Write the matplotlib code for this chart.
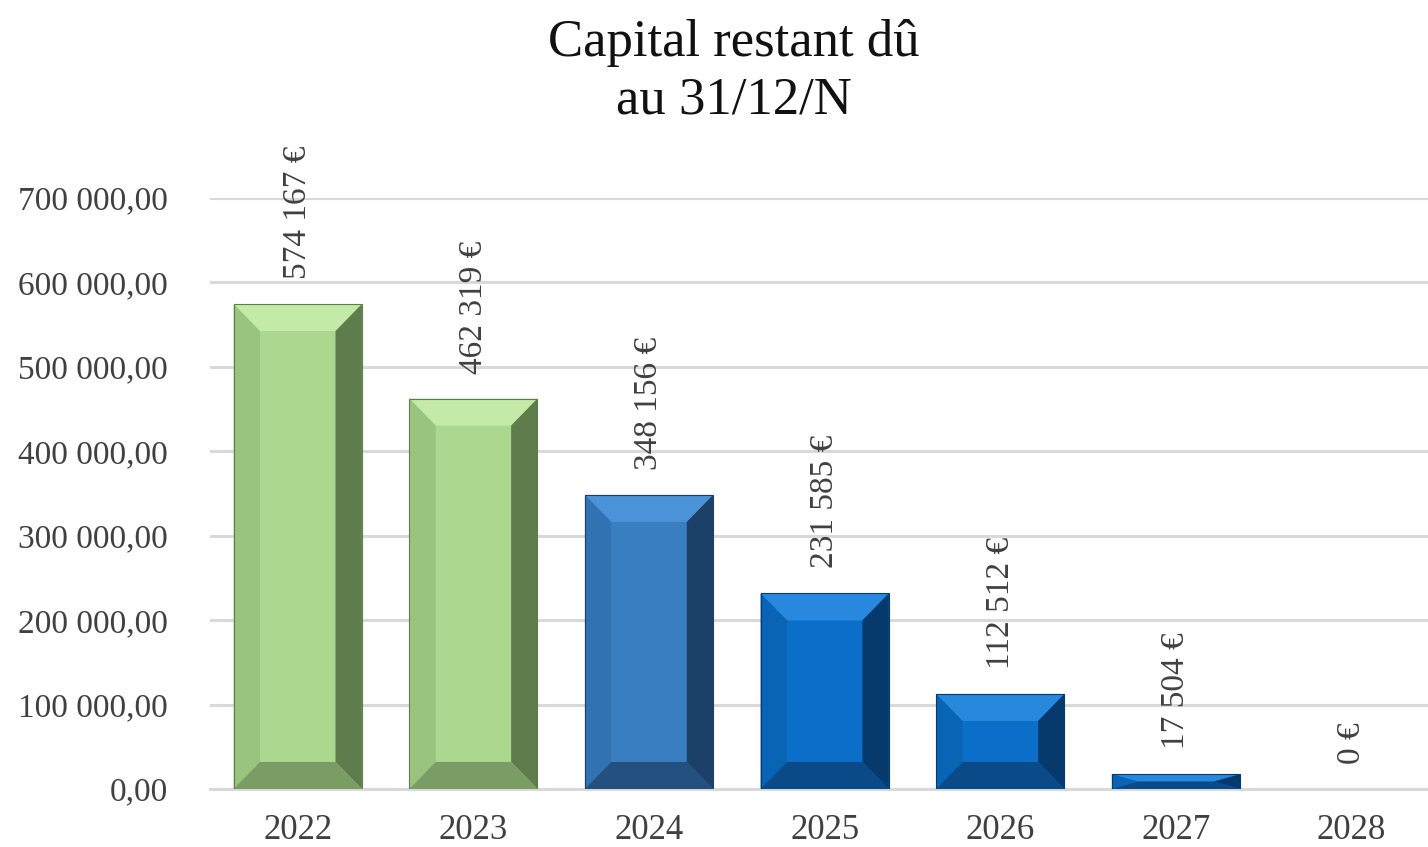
import matplotlib
matplotlib.use("Agg")
import matplotlib.pyplot as plt
from matplotlib.patches import Polygon
from matplotlib.ticker import FuncFormatter

years = ["2022", "2023", "2024", "2025", "2026", "2027", "2028"]
capital = [574167, 462319, 348156, 231585, 112512, 17504, 0]
labels = ["574 167 €", "462 319 €", "348 156 €", "231 585 €", "112 512 €", "17 504 €", "0 €"]

# face, top, left, right, bottom
green = ["#abd78f", "#c4eaa8", "#98c47e", "#5f7d4c", "#7a9d65"]
blue_a = ["#3a7ec2", "#4b93d8", "#3172b2", "#1c4068", "#24507f"]
blue_b = ["#0b6fca", "#2888de", "#0a64b6", "#063a6c", "#0a4a88"]
palette = [green, green, blue_a, blue_b, blue_b, blue_b, blue_b]

plt.rcParams["font.family"] = ["Liberation Serif", "DejaVu Serif"]
text_col = "#404040"

fig = plt.figure(figsize=(14.28, 8.47), dpi=100)
ax = fig.add_axes([0.147, 0.0685, 0.861, 0.698])

xs = list(range(len(years)))
width = 0.73
hw = width / 2
bev_x = 0.15
bev_y = 32000

ax.bar(xs, capital, width=width, color=[p[0] for p in palette], zorder=3)

# bevel faces on each bar
for x, h, cols in zip(xs, capital, palette):
    if h <= 0:
        continue
    dy = min(bev_y, h / 2)
    dx = min(bev_x, hw)
    l, r = x - hw, x + hw
    polys = [
        ([(l, h), (r, h), (r - dx, h - dy), (l + dx, h - dy)], cols[1]),
        ([(l, 0), (l, h), (l + dx, h - dy), (l + dx, dy)], cols[2]),
        ([(r, 0), (r, h), (r - dx, h - dy), (r - dx, dy)], cols[3]),
        ([(l, 0), (r, 0), (r - dx, dy), (l + dx, dy)], cols[4]),
    ]
    for pts, c in polys:
        ax.add_patch(Polygon(pts, closed=True, facecolor=c, edgecolor="none", zorder=4))
    ax.add_patch(Polygon([(l, 0), (l, h), (r, h), (r, 0)], closed=True, fill=False,
                         edgecolor=cols[3], linewidth=0.8, zorder=5))

for x, h, lab in zip(xs, capital, labels):
    ax.annotate(lab, (x, h), xytext=(0, 18), textcoords="offset points",
                rotation=90, ha="center", va="bottom", fontsize=24,
                color=text_col, annotation_clip=False)

ax.set_xlim(-0.5, 6.5)
ax.set_ylim(0, 700000)
ax.set_yticks(range(0, 700001, 100000))
ax.yaxis.set_major_formatter(FuncFormatter(
    lambda v, p: "{:,.2f}".format(v).replace(",", " ").replace(".", ",")))
ax.set_xticks(xs)
ax.set_xticklabels(years)
ax.tick_params(axis="both", length=0, labelsize=24, colors=text_col)
ax.tick_params(axis="x", labelsize=25, pad=18)
ax.tick_params(axis="y", pad=30)
ax.grid(axis="y", color="#d9d9d9", linewidth=2.2, zorder=0)
for s in ["top", "right", "left"]:
    ax.spines[s].set_visible(False)
ax.spines["bottom"].set_color("#d9d9d9")
ax.spines["bottom"].set_linewidth(2.2)

fig.text(0.514, 0.915, "Capital restant dû\nau 31/12/N", ha="center", va="center",
         fontsize=38, color="#111111", linespacing=1.25)

fig.savefig("out.png", dpi=100)
